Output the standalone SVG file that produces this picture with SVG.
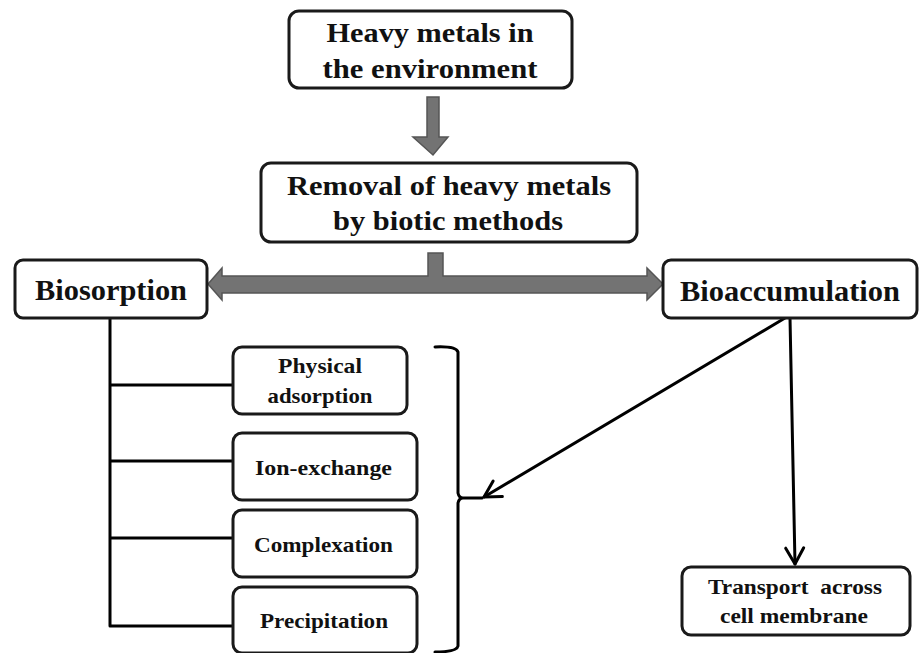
<svg xmlns="http://www.w3.org/2000/svg" width="919" height="653" viewBox="0 0 919 653">
<style>
.box{fill:#fff;stroke:#1a1a1a;stroke-width:3}
.t{font-family:'Liberation Serif',Tinos,'Times New Roman',Times,serif;font-weight:700;fill:#111;text-anchor:middle}
.big{font-size:27px}
.mid{font-size:29px}
.sm{font-size:22px}
.xs{font-size:21px}
.ln{fill:none;stroke:#000;stroke-width:3;stroke-linecap:round;stroke-linejoin:round}
.fat{fill:#737373;stroke:#555;stroke-width:1.5;stroke-linejoin:miter}
</style>
<defs>
<marker id="open" markerUnits="userSpaceOnUse" markerWidth="30" markerHeight="30" refX="20" refY="10" orient="auto" viewBox="0 0 30 20">
<path d="M4,1 L20,10 L4,19" fill="none" stroke="#000" stroke-width="3" stroke-linecap="round" stroke-linejoin="round"/>
</marker>
</defs>
<rect width="919" height="653" fill="#fff"/>

<g id="connectors">
<path class="fat" d="M427,97 H439 V137 H448 L433,155 L413,137 H427 Z"/>
<path class="fat" d="M428,253 H443 V276 H647 V268 L663,284 L647,300 V293 H222 V300 L208,284 L222,268 V276 H428 Z"/>
<path class="ln" d="M110,318 V626 H233 M110,385 H233 M110,461 H233 M110,538 H233"/>
<path class="ln" d="M435,347 Q456,346 458,352 V493 Q459,498 463,498 H482 M458,503 Q459,498 463,498 M458,503 V646 Q457,652 435,652"/>
<path class="ln" d="M785,318 L484,497" marker-end="url(#open)"/>
<path class="ln" d="M790,318 L795,564" marker-end="url(#open)"/>
</g>

<g id="n1">
<rect class="box" x="289" y="11" width="283" height="77" rx="10"/>
<text class="t big" x="430" y="42" textLength="207" lengthAdjust="spacingAndGlyphs">Heavy metals in</text>
<text class="t big" x="430" y="78" textLength="215" lengthAdjust="spacingAndGlyphs">the environment</text>
</g>
<g id="n2">
<rect class="box" x="261" y="163" width="376" height="79" rx="10"/>
<text class="t big" x="449" y="195" textLength="324" lengthAdjust="spacingAndGlyphs">Removal of heavy metals</text>
<text class="t big" x="448" y="230" textLength="230" lengthAdjust="spacingAndGlyphs">by biotic methods</text>
</g>
<g id="n3">
<rect class="box" x="15" y="260" width="192" height="58" rx="8"/>
<text class="t mid" x="111" y="300" textLength="152" lengthAdjust="spacingAndGlyphs">Biosorption</text>
</g>
<g id="n4">
<rect class="box" x="663" y="260" width="254" height="58" rx="8"/>
<text class="t mid" x="790" y="301" textLength="220" lengthAdjust="spacingAndGlyphs">Bioaccumulation</text>
</g>
<g id="n5">
<rect class="box" x="233" y="347" width="174" height="67" rx="9"/>
<text class="t sm" x="320" y="373" textLength="84" lengthAdjust="spacingAndGlyphs">Physical</text>
<text class="t sm" x="320" y="403" textLength="105" lengthAdjust="spacingAndGlyphs">adsorption</text>
</g>
<g id="n6">
<rect class="box" x="233" y="433" width="184" height="67" rx="9"/>
<text class="t sm" x="323.5" y="475" textLength="137" lengthAdjust="spacingAndGlyphs">Ion-exchange</text>
</g>
<g id="n7">
<rect class="box" x="233" y="510" width="184" height="67" rx="9"/>
<text class="t sm" x="323.5" y="552" textLength="139" lengthAdjust="spacingAndGlyphs">Complexation</text>
</g>
<g id="n8">
<rect class="box" x="233" y="587" width="184" height="66" rx="9"/>
<text class="t sm" x="324" y="628" textLength="128" lengthAdjust="spacingAndGlyphs">Precipitation</text>
</g>
<g id="n9">
<rect class="box" x="682" y="567" width="228" height="68" rx="9"/>
<text class="t xs" x="795" y="594" textLength="174" lengthAdjust="spacingAndGlyphs" xml:space="preserve">Transport  across</text>
<text class="t xs" x="794" y="623" textLength="148" lengthAdjust="spacingAndGlyphs">cell membrane</text>
</g>
</svg>
